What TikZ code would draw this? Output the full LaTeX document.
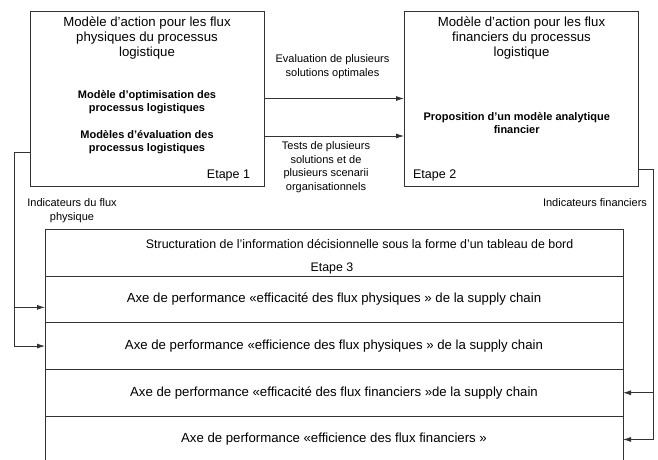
\documentclass[tikz,border=0pt]{standalone}
\usepackage{fontspec}
\setmainfont{Liberation Sans}
\usetikzlibrary{arrows.meta,positioning}

\begin{document}
\begin{tikzpicture}[x=1pt,y=-1pt,
	stage/.style={draw=black!80,line width=0.8pt,minimum width=234pt,minimum height=175pt,inner sep=0pt,outer sep=0pt},
	axisrow/.style={draw=black!80,line width=0.8pt,minimum width=578pt,minimum height=46.7pt,inner sep=0pt,outer sep=0pt,font=\fontsize{13.2}{15}\selectfont},
	flow/.style={draw=black!80,line width=0.8pt,-{Latex[length=8pt,width=5pt]}},
	stagetitle/.style={align=center,font=\fontsize{13.2}{15}\selectfont},
	boldtxt/.style={align=center,font=\fontsize{11}{13}\selectfont\bfseries},
	lbl/.style={align=center,font=\fontsize{11}{13.5}\selectfont},
	etape/.style={font=\fontsize{12.5}{14}\selectfont}]
			\useasboundingbox (0,0) rectangle (658,459);
			\node[stage] (etape1) at (147,98.5) {};
			\node[stage] (etape2) at (521,98.5) {};
			\node[stagetitle] (title1) at (147,38) {Modèle d’action pour les flux\\physiques du processus\\logistique};
			\node[boldtxt] (optim) at (147,102.3) {Modèle d'optimisation des\\processus logistiques};
			\node[boldtxt] (evalmod) at (147,142) {Modèles d’évaluation des\\processus logistiques};
			\node[etape] (lab1) at (228.5,175) {Etape 1};
			\node[stagetitle] (title2) at (521.5,38) {Modèle d’action pour les flux\\financiers du processus\\logistique};
			\node[boldtxt] (propos) at (516.7,123.2) {Proposition d’un modèle analytique\\financier};
			\node[etape] (lab2) at (434.7,175) {Etape 2};
	
			\draw[flow] (etape1.east) -- (etape2.west);
			\draw[flow] ([yshift=-37.5pt]etape1.east) -- ([yshift=-37.5pt]etape2.west);
			\node[lbl] (evalsol) at (332.5,66.5) {Evaluation de plusieurs\\solutions optimales};
			\node[lbl] (tests) at (326,167) {Tests de plusieurs\\solutions et de\\plusieurs scenarii\\organisationnels};
	
			\node[axisrow] (tableau) at (334,252.65) {};
			\node[axisrow,below=0pt of tableau] (row1) {Axe de performance «efficacité des flux physiques » de la supply chain};
			\node[axisrow,below=0pt of row1] (row2) {Axe de performance «efficience des flux physiques » de la supply chain};
			\node[axisrow,below=0pt of row2] (row3) {Axe de performance «efficacité des flux financiers »de la supply chain};
			\node[axisrow,below=0pt of row3] (row4) {Axe de performance «efficience des flux financiers »};
			\node[etape,font=\fontsize{12.4}{14}\selectfont,anchor=west] (struct) at (142.4,244) {Structuration de l'information décisionnelle sous la forme d'un tableau de bord};
			\node[etape,font=\fontsize{12.4}{14}\selectfont] (lab3) at (332,268) {Etape 3};
	
			\coordinate (physout) at ([yshift=-53.5pt]etape1.west);
			\coordinate (physbus) at (14,152);
			\coordinate (row1in) at ([yshift=-8pt]row1.west);
			\draw[flow] (physout) -- (physbus) |- (row2.west);
			\draw[flow] (physbus |- row1in) -- (row1in);
			\node[lbl] (indphys) at (72,210.4) {Indicateurs du flux\\physique};
	
			\coordinate (finout) at ([yshift=-70.8pt]etape2.east);
			\coordinate (finbus) at (653,169.3);
			\draw[flow] (finout) -- (finbus) |- (row4.east);
			\draw[flow] (finbus |- row3.east) -- (row3.east);
			\node[lbl] (indfin) at (595,202.7) {Indicateurs financiers};
		\end{tikzpicture}
\end{document}
